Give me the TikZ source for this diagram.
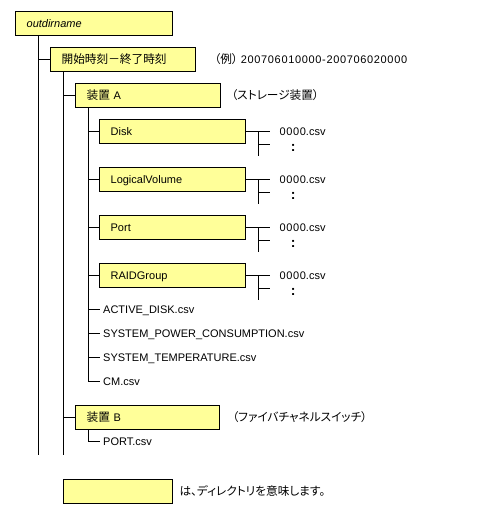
\documentclass[tikz,border=0pt]{standalone}
\usepackage{fontspec}
\setmainfont{Liberation Sans}
\newfontfamily\jp[Scale=1.06,RawFeature=+palt]{Noto Sans CJK JP}
\newfontfamily\wide[LetterSpace=6]{Liberation Sans}
\usetikzlibrary{positioning}
\definecolor{dirfill}{HTML}{FFFF99}

\begin{document}
\begin{tikzpicture}[
    x=1pt, y=-1pt,
    font=\fontsize{11pt}{13pt}\selectfont,
    dirbox/.style={draw, fill=dirfill, line width=1.3pt, anchor=north west, minimum height=24pt, inner xsep=11pt, inner ysep=0pt, text width=#1, align=left, text height=8pt, text depth=0pt},
    dirbox/.default=124pt,
    file/.style={anchor=west, inner xsep=3pt, inner ysep=0pt, text height=8pt, text depth=0pt},
    note/.style={anchor=west, inner sep=0pt, text height=8pt, text depth=0pt},
    tree/.style={line width=1pt},
    node distance=8pt
]
    \fill [white] (0,0) rectangle (477,515);
    \useasboundingbox (0,0) rectangle (477,515);

    % directories
    \node [dirbox=135pt] (outdir) at (15,11) {\itshape outdirname};
    \node [dirbox=123pt] (period) at (50,47) {\jp 開始時刻－終了時刻};
    \node [dirbox=123pt] (devA) at (75,83) {{\jp 装置} A};
    \node [dirbox] (disk) at (99,119) {Disk};
    \node [dirbox] (lv) at (99,167) {LogicalVolume};
    \node [dirbox] (port) at (99,215) {Port};
    \node [dirbox] (raid) at (99,263) {RAIDGroup};
    \node [dirbox=122pt] (devB) at (75,405) {{\jp 装置} B};
    \node [dirbox=87pt] (legend) at (63,479) {};

    % files
    \node [file] (active) at (100,309) {ACTIVE\_DISK.csv};
    \node [file] (power) at (100,333) {SYSTEM\_POWER\_CONSUMPTION.csv};
    \node [file] (temp) at (100,357) {SYSTEM\_TEMPERATURE.csv};
    \node [file] (cm) at (100,381) {CM.csv};
    \node [file] (portcsv) at (100,441) {PORT.csv};

    % notes
    \node [note, right=18pt of period] (example) {{\jp （例）}\ {\wide 200706010000-200706020000}};
    \node [note, right=10pt of devA] (typeA) {\jp （ストレージ装置）};
    \node [note, right=12pt of devB] (typeB) {\jp （ファイバチャネルスイッチ）};
    \node [note, right=6pt of legend] (legtext) {\jp は、ディレクトリを意味します。};

    % tree lines
    \coordinate (t1) at ([xshift=23pt]outdir.south west);
    \coordinate (t2) at ([xshift=13pt]period.south west);
    \coordinate (t3) at ([xshift=13pt]devA.south west);
    \coordinate (t4) at ([xshift=13pt]devB.south west);
    \coordinate (bottom) at (0,455);

    \draw [tree] (t1) -- (t1 |- bottom);
    \draw [tree] (t1 |- period.west) -- (period.west);
    \draw [tree] (t2) -- (t2 |- bottom);
    \draw [tree] (t2 |- devA.west) -- (devA.west);
    \draw [tree] (t2 |- devB.west) -- (devB.west);
    \foreach \n in {disk,lv,port,raid,active,power,temp}
        \draw [tree] (t3 |- \n.west) -- (\n.west);
    \draw [tree] (t3) |- (cm.west);
    \draw [tree] (t4) |- (portcsv.west);

    % csv files inside the sub directories
    \foreach \d in {disk,lv,port,raid} {
        \node [file, inner xsep=9pt, right=24pt of \d] (\d-csv) {{\wide 0000}.csv};
        \coordinate (\d-j) at ([xshift=12pt]\d.east);
        \coordinate (\d-b) at ([yshift=-13pt]\d-csv.west);
        \node [inner sep=0pt, font=\fontsize{14pt}{16pt}\selectfont\bfseries] (\d-dots) at ([xshift=23pt,yshift=-3pt]\d-b) {:};
        \draw [tree] (\d.east) -- (\d-csv.west);
        \draw [tree] (\d-j) -- ++(0,24);
        \draw [tree] (\d-j |- \d-b) -- (\d-b);
    }

\end{tikzpicture}
\end{document}
